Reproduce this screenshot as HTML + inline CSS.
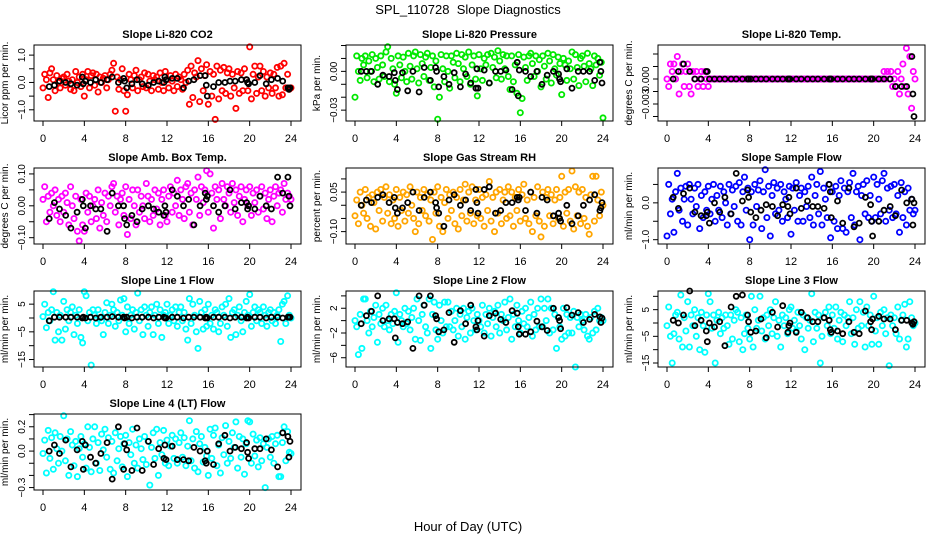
<!DOCTYPE html>
<html><head><meta charset="utf-8"><style>
html,body{margin:0;padding:0;background:#fff;}
svg{display:block;font-family:"Liberation Sans",sans-serif;}
</style></head><body>
<svg id="chart" width="936" height="540" viewBox="0 0 936 540" xmlns="http://www.w3.org/2000/svg">
<text x="468" y="14" text-anchor="middle" font-size="13" style="white-space:pre">SPL_110728&#160; Slope Diagnostics</text>
<text x="468" y="531" text-anchor="middle" font-size="13">Hour of Day (UTC)</text>
</svg>
<script>
const xTicks=[0,4,8,12,16,20,24];
const blackHours=[0.6,1.1,1.6,2.2,2.7,3.3,3.8,3.9,4.1,4.6,5.1,5.6,6.2,6.7,7.3,7.8,7.9,8.1,8.6,9.1,9.6,10.2,10.7,11.2,11.7,11.8,11.9,12.5,13.0,13.6,14.1,14.6,15.2,15.7,15.8,15.9,16.5,17.0,17.6,18.1,18.6,19.2,19.7,19.8,19.9,20.5,21.0,21.6,22.1,22.7,23.2,23.7,23.8,23.9];
const titles=["Slope Li-820 CO2","Slope Li-820 Pressure","Slope Li-820 Temp.","Slope Amb. Box Temp.","Slope Gas Stream RH","Slope Sample Flow","Slope Line 1 Flow","Slope Line 2 Flow","Slope Line 3 Flow","Slope Line 4 (LT) Flow"];
const yTitles=["Licor ppm per min.","kPa per min.","degrees C per min.","degrees C per min.","percent per min.","ml/min per min.","ml/min per min.","ml/min per min.","ml/min per min.","ml/min per min."];
const colors=["#ff0000","#00e800","#ff00ff","#ff00ff","#ffa500","#0000ff","#00ffff","#00ffff","#00ffff","#00ffff"];
const yLims=[[-1.41,1.37],[-0.0384,0.0204],[-0.00504,0.00408],[-0.1198,0.1186],[-0.147,0.1414],[-1.117,0.946],[-17.7,9.75],[-7.5,4.79],[-16.5,12],[-0.32,0.305]];
const yTicks=[[-1,-0.5,0,0.5,1],[-0.03,-0.02,-0.01,0,0.01,0.02],[-0.0045,-0.003,-0.0015,0,0.0015,0.003],[-0.1,-0.05,0,0.05,0.1],[-0.1,-0.05,0,0.05,0.1],[-1,-0.5,0,0.5],[-15,-10,-5,0,5],[-6,-4,-2,0,2,4],[-15,-10,-5,0,5,10],[-0.3,-0.2,-0.1,0,0.1,0.2,0.3]];
const yTickLabels=[[[-1,"-1.0"],[0,"0.0"],[1,"1.0"]],[[-0.03,"-0.03"],[0,"0.00"]],[[-0.003,"-0.003"],[0,"0.000"]],[[-0.1,"-0.10"],[0,"0.00"],[0.1,"0.10"]],[[-0.1,"-0.10"],[0.05,"0.05"]],[[-1,"-1.0"],[0,"0.0"]],[[-15,"-15"],[-5,"-5"],[5,"5"]],[[-6,"-6"],[-2,"-2"],[2,"2"]],[[-15,"-15"],[-5,"-5"],[5,"5"]],[[-0.3,"-0.3"],[0,"0.0"],[0.2,"0.2"]]];
const co2=[-0.2,0.3,0.1,-0.55,0.35,0.5,0.1,-0.3,0.25,0.0,-0.2,0.15,0.2,-0.1,0.3,0.05,-0.25,0.1,-0.3,0.4,0.0,0.2,-0.15,0.3,-0.5,0.1,0.4,-0.2,0.25,0.35,-0.1,0.3,-0.35,0.2,0.0,0.15,0.25,-0.2,0.1,0.3,0.45,0.7,-1.05,0.2,-0.25,0.1,0.5,-0.3,-1.05,-0.45,0.3,0.1,-0.2,0.25,0.45,-0.3,0.1,0.2,-0.15,0.35,-0.2,0.3,0.05,-0.3,0.25,0.1,0.2,-0.25,0.35,0.0,-0.3,0.4,0.1,-0.2,0.25,0.05,-0.3,0.3,-0.15,0.2,0.1,-0.25,0.3,0.0,0.45,-0.8,0.6,-0.55,0.35,0.2,0.8,-0.7,0.5,-0.3,0.25,0.65,-0.8,0.4,-0.5,0.3,-1.35,0.6,-0.6,0.45,-0.3,0.55,-0.4,0.35,0.5,-0.5,0.3,-0.2,-0.95,0.4,-0.4,0.35,-0.3,0.5,0.1,-0.3,1.3,-0.6,0.3,0.6,-0.4,0.2,0.6,-0.3,0.4,-0.5,0.2,-0.2,0.35,-0.4,0.3,-0.2,0.55,-0.5,0.6,-0.45,0.7,-0.2,0.3,-0.25,-0.2];
const co2Black=[-0.15,-0.1,0.05,0.0,-0.05,-0.1,0.2,-0.05,0.05,0.0,0.1,0.0,0.1,0.2,0.0,0.15,0.05,-0.2,-0.05,0.1,-0.05,-0.1,0.0,0.05,0.0,0.2,0.1,0.15,0.15,-0.2,0.05,0.1,0.25,0.25,-0.1,-0.5,-0.15,0.0,0.0,0.05,0.05,0.1,0.1,0.0,-0.05,0.0,0.25,-0.05,0.1,0.15,0.05,-0.2,-0.25,-0.2];
const pres=[-0.02,0.012,0.0,-0.007,0.01,0.005,0.012,-0.005,0.008,0.0,0.013,-0.008,0.01,0.003,-0.006,0.012,0.005,-0.004,0.015,0.019,-0.008,0.01,0.002,-0.01,-0.017,0.012,0.005,-0.005,0.011,0.0,-0.008,0.014,0.004,-0.006,0.012,0.015,0.002,-0.009,0.013,0.006,-0.004,0.011,0.014,-0.007,0.003,0.012,-0.012,0.008,-0.037,-0.02,0.013,0.002,-0.008,0.012,0.0,-0.013,0.012,0.007,-0.005,0.014,0.006,-0.008,0.013,0.002,0.011,-0.004,0.015,-0.01,0.005,0.012,-0.006,-0.019,0.013,0.002,-0.007,0.01,0.005,0.013,-0.009,0.014,0.003,0.011,-0.005,0.016,0.008,-0.006,0.013,0.002,0.012,-0.004,-0.014,0.012,-0.008,0.005,-0.017,0.013,-0.032,-0.021,0.011,0.003,-0.007,0.012,0.014,0.006,-0.004,0.012,0.0,0.009,-0.012,0.012,0.004,-0.006,0.014,0.008,-0.009,0.013,0.002,-0.003,0.011,0.006,-0.018,0.01,0.005,-0.007,0.008,0.002,0.015,-0.006,0.013,0.003,-0.011,0.01,0.012,0.004,-0.008,0.014,0.006,0.002,-0.011,0.012,0.005,0.01,-0.003,0.007,-0.036];
const presBlack=[0.0,0.0,0.0,-0.01,-0.003,-0.004,-0.001,-0.007,-0.014,-0.001,-0.015,0.0,-0.016,0.003,-0.007,0.003,0.0,-0.012,-0.004,-0.01,-0.001,-0.012,-0.002,-0.009,-0.013,0.002,-0.013,0.001,-0.009,0.0,0.0,0.001,-0.014,0.007,-0.019,0.001,0.0,-0.004,0.0,-0.01,-0.003,0.0,-0.002,-0.006,-0.008,0.002,-0.013,0.0,0.0,0.0,-0.007,0.007,0.0,-0.009];
const temp=[0,-0.0009,0.0018,0.0009,0.0018,0,0.0027,-0.0018,0.0009,0.0018,-0.0009,0.0009,0.0018,-0.0009,-0.0018,0.0009,0,0.0009,-0.0009,0,0.0009,-0.0009,0.0009,0,-0.0009,0,0,0,0,0,0,0,0,0,0,0,0,0,0,0,0,0,0,0,0,0,0,0,0,0,0,0,0,0,0,0,0,0,0,0,0,0,0,0,0,0,0,0,0,0,0,0,0,0,0,0,0,0,0,0,0,0,0,0,0,0,0,0,0,0,0,0,0,0,0,0,0,0,0,0,0,0,0,0,0,0,0,0,0,0,0,0,0,0,0,0,0,0,0,0,0,0,0,0,0,0,0.0009,0,0.0009,0,0.0009,-0.0009,0,-0.0009,0.0009,-0.0018,0,0.0018,-0.0009,0.0037,-0.0018,0.0027,-0.0035,0.0009,0];
const tempBlack=[0,0.0009,0.0018,0.0009,0,0,0.0009,0.0009,0,0,0,0,0,0,0,0,0,0,0,0,0,0,0,0,0,0,0,0,0,0,0,0,0,0,0,0,0,0,0,0,0,0,0,0,0,0,0,0,-0.0009,-0.0009,-0.0009,0.0027,-0.0018,-0.0045];
const amb=[0.02,0.06,-0.05,0.03,-0.02,0.04,0.0,0.05,-0.03,0.02,-0.05,0.03,-0.02,0.04,0.01,-0.06,0.06,0.0,-0.04,0.03,-0.08,-0.11,0.02,-0.06,-0.08,0.04,-0.02,0.03,-0.05,0.0,0.02,-0.04,0.05,-0.07,0.01,-0.03,0.04,-0.05,0.03,0.0,0.06,0.07,-0.02,0.03,-0.06,0.02,0.04,-0.03,0.06,-0.09,0.02,-0.04,0.05,0.0,-0.06,0.05,-0.02,0.03,0.0,-0.04,0.07,0.03,-0.05,0.02,-0.03,0.05,-0.01,0.04,-0.06,0.02,0.05,-0.03,-0.05,0.03,0.06,-0.02,0.04,0.0,0.08,-0.03,0.05,0.02,-0.04,0.06,0.07,-0.02,0.04,-0.06,0.05,0.02,0.09,-0.03,0.06,0.01,0.05,0.11,-0.02,0.1,0.04,-0.07,0.06,0.02,0.05,-0.04,0.07,0.02,0.0,0.06,0.04,-0.02,0.07,0.01,0.05,-0.03,0.03,0.06,-0.05,0.02,0.05,0.0,0.06,-0.03,0.04,0.01,0.05,-0.02,0.03,0.06,-0.01,0.04,-0.04,0.02,0.05,-0.05,0.03,0.06,0.0,0.04,0.05,-0.02,0.07,0.02,0.04,0.03,0.02];
const ambBlack=[-0.04,0.01,-0.01,-0.03,-0.07,-0.02,0.02,0.0,-0.07,0.0,-0.01,-0.01,-0.08,0.04,0.0,0.0,-0.04,-0.06,-0.03,-0.05,-0.01,0.0,-0.01,-0.02,-0.03,0.0,-0.02,0.05,0.03,0.0,0.02,-0.06,0.0,0.04,0.02,0.03,0.0,-0.02,0.0,0.05,-0.01,0.01,0.01,-0.01,0.0,-0.01,0.03,0.0,-0.01,0.09,0.04,0.09,0.03,0.0];
const rh=[-0.04,0.02,-0.07,0.05,0.0,-0.03,0.06,-0.05,0.03,-0.08,0.04,0.01,-0.09,0.05,-0.02,0.06,-0.06,0.03,0.07,-0.03,0.04,-0.07,0.02,-0.05,0.06,-0.08,0.03,-0.02,0.05,-0.06,0.04,-0.03,0.07,0.0,-0.05,-0.1,0.05,-0.07,0.03,-0.02,0.06,-0.04,0.04,-0.06,0.02,-0.13,0.05,-0.03,0.07,-0.08,0.03,-0.1,0.01,0.06,-0.05,0.04,-0.02,0.05,-0.07,0.03,-0.09,0.06,-0.04,0.02,0.08,-0.06,0.05,-0.03,0.07,-0.07,0.02,-0.04,0.06,-0.05,0.03,-0.08,0.04,-0.02,0.09,-0.06,0.03,-0.1,0.05,-0.03,0.06,-0.07,0.02,0.05,-0.05,0.07,-0.04,0.05,-0.08,0.03,-0.02,0.06,-0.06,0.04,0.08,-0.05,0.02,-0.07,0.05,-0.1,0.03,-0.04,0.07,-0.06,-0.12,0.05,-0.08,0.03,0.06,-0.04,0.04,-0.07,0.02,0.06,-0.05,0.03,0.11,-0.08,0.05,-0.03,0.06,-0.06,0.13,-0.09,0.07,-0.04,0.05,-0.07,0.06,-0.05,0.03,-0.08,-0.11,0.04,0.11,-0.06,0.11,0.02,-0.04,0.05,0.0];
const rhBlack=[0.0,0.02,0.01,0.03,0.04,0.01,0.03,-0.01,-0.03,-0.01,0.01,0.05,-0.02,0.03,0.05,0.01,-0.01,-0.03,-0.08,0.02,0.04,0.0,0.02,-0.02,0.06,0.01,-0.03,0.06,0.07,-0.03,-0.02,0.01,0.01,0.03,0.02,0.03,-0.02,0.05,-0.03,0.03,0.02,-0.04,-0.03,-0.05,-0.06,0.0,-0.07,-0.04,0.0,0.02,0.04,-0.02,-0.01,0.01];
const samp=[-0.9,0.5,-0.3,0.1,-0.8,0.3,0.8,-0.2,0.4,-0.5,0.1,0.45,-0.6,0.5,0.1,-0.3,0.4,-0.1,0.5,-0.7,0.2,-0.4,0.3,-0.2,0.45,-0.3,0.1,0.5,-0.5,0.2,-0.2,0.45,-0.4,0.3,0.0,-0.6,0.5,-0.3,0.35,-0.1,0.45,-0.5,0.55,-0.6,0.3,0.7,-0.2,0.4,-1.0,0.3,-0.6,0.5,-0.1,0.35,0.6,-0.7,0.3,0.9,-0.4,0.45,-0.9,0.2,0.55,-0.3,0.4,-0.2,0.5,-0.5,0.3,0.1,-0.4,0.45,-0.85,0.4,-0.2,0.55,-0.5,0.2,0.4,-0.5,0.3,-0.1,0.45,-0.4,0.7,-0.6,0.2,0.5,-0.3,0.85,-0.6,0.4,0.1,-0.4,0.5,-0.95,0.3,-0.5,0.45,-0.7,0.2,0.6,-0.7,0.4,-0.8,0.3,0.55,-0.4,0.8,-0.6,0.3,0.45,-1.0,0.2,0.5,-0.3,0.6,-0.4,0.2,-0.5,0.7,-0.4,0.5,0.1,-0.3,0.6,0.8,-0.5,0.4,-0.2,0.45,-0.4,0.5,-0.3,0.2,-0.8,0.55,-0.4,0.3,-0.6,0.4,-0.2,0.1,-0.3,-0.2];
const sampBlack=[0.15,-0.15,0.25,0.4,-0.25,-0.35,-0.35,-0.25,-0.55,0.0,-0.25,0.15,-0.3,0.8,0.05,0.35,0.15,-0.25,-0.4,-0.2,-0.05,-0.1,-0.35,-0.05,-0.1,0.15,-0.3,0.4,-0.15,0.05,-0.1,-0.1,-0.15,0.5,0.3,-0.4,0.05,-0.55,0.4,-0.65,-0.55,0.15,-0.05,-0.5,-0.9,-0.5,-0.2,-0.1,-0.35,0.35,0.0,0.1,-0.6,0.0];
const line1=[0.5,5,-3.5,2,-1,3,9.5,-8,2,-5,1,-8,6,-4,3,-1,2,4,-6,1,-2,3,-7,-9,9.5,8,-1,2,-17,3,1,-2,3,0,-1,-6,2,5.5,-2,1,5,3,-3,2,-1,6.5,1,7,-5,4,-2,1,3,-4,2,9,-1,3,-6,4,1,-3,2,4,-6,1,5,-2,3,-7,1,2,5,-2,1,3,-1,4,-3,2,4,-1,2,-4,-8,7,-2,5,1,-5,-11,6,2,-4,3,-3,5,-2,1,-4,3,2,-5,-2,4,1,5,-3,7,-7,2,3,-6,1,4,-1,-5,2,6,1,8.5,-3,2,4,-1,3,2,-2,4,1,-3,2,3,-1,2,-2,1,3,-8.5,5,6,-2,8,1,0];
const line1Black=[-1,0.3,0.3,0.3,0.3,0.3,0,0.3,0,0.3,0,0.3,0.3,0.5,0.3,0.3,0,0.3,0,0.3,0.3,0.3,0,0.3,0.3,0,0,0.3,0.3,0,0.3,0.3,0.3,0,0.3,0,0.3,0.3,0.3,0,0.3,0.3,0,0.3,0,0.3,0.3,0,0.3,0.3,0,0.3,0.3,0.3];
const line2=[0,-1,-5.5,1,-4.5,3.5,3.5,0,-2,1.5,-1,0.5,2.5,-3.5,1,-0.5,2,-1,2.5,0,-1.5,1,-0.5,1.5,4.5,-3.5,1,0,-1,2,-0.5,1.5,-1.5,0.5,2,-3,3.5,0,-3.2,1,2.5,-1,-2,3.5,-4.5,1,3,-1.5,-3,2.5,0,-2,3,-1,3,-1,1.5,-1.5,0,2,-2.5,1,-1,2,-3,0.5,1.5,-2,2,0,-1.5,1,0,-1,2.5,-2,1,-0.5,2,-2.5,0.5,1.5,-1,2.5,-2,1,0,3,-1.5,0.5,3.5,-3,1,-1,2.5,0,-2,1.5,-0.5,2,-1,0.5,3,-2.5,1,-1.5,2,-1,3.5,-1,2,0,3.5,-2,2,-1.5,1,-4.5,0.5,-1,-3,2,-2.5,1,-2,0.5,-2,1.5,-7.5,0.5,-1,1,0,-1.5,1,-2.5,-3,0.5,-2,1.5,-1.5,2,0,0.5,0];
const line2Black=[-0.5,0.8,1.5,4,0,0.3,0.3,-2.8,-0.3,-0.5,-0.2,-4.5,4,2.5,4,0.8,0.3,-1.8,-1.5,1.3,-3.5,1.6,-0.5,2.5,-1,-1.5,0,-2.5,0.8,1.2,0.2,-0.3,1.6,1.2,-1,-2.2,-2.2,-1.8,-0.1,-1,-1.6,2,0.5,0,-1.3,2.1,0.9,1.3,-0.3,0.2,1,0.6,-0.3,0.4];
const line3=[-1,6,-5,-15,-4,3,4,-6,10.5,-9,2,-3,8,-9,3,-1,5,-5,2,-10,4,-1,-11,3,11,8,-2,3,-15,1,4,-4,2,-2,3,-1,-8,3,-6,1,5,4,-7,2,-10,-4,3,-2,-6,10,-9,5,-2,1,10,-3,2,-6,3,-1,5,-4,2,8,-5,1,-9,3,-1,2,-4,5,6,-2,1,-3,4,-1,-6,3,-10,2,-2,1,11,-7,4,-2,3,-15,-5,2,4,-1,6,-4,3,-2,6,-6,1,4,-7,3,-1,2,8,-4,2,-8,5,-2,8,-1,4,-9,6,-1,3,-8,10,-3,2,-8,4,-1,5,-4,2,-16,3,-1,2,-4,6,-6,1,3,7,-9,-6,8,2,-1,0];
const line3Black=[1,0,3,12,-1,1,-3,-7,0,-1.5,0.5,-8.5,6,10,10.5,3,0.5,-3.5,-3,1.5,-5.5,4,-1.5,6.5,-3.5,-1,0,-3.5,4,2,0.5,0.5,2,1,-2.5,-3.5,-3,-4,0.5,-3.5,-4,4.5,0.5,-2.5,1.5,2.5,1.5,1.5,-2.5,1,1,0,-0.5,0.5];
const line4=[-0.02,0.09,-0.18,0.17,-0.06,0.11,-0.15,0.15,0.02,-0.1,0.12,0.0,0.29,-0.08,0.1,-0.2,0.16,0.05,-0.12,0.08,-0.21,0.02,0.12,-0.05,0.06,-0.14,0.2,0.03,-0.17,0.1,0.2,-0.1,0.07,-0.16,0.14,0.01,0.18,-0.05,0.11,-0.15,0.08,-0.18,0.15,-0.08,0.02,0.12,-0.13,0.06,0.13,-0.21,0.07,-0.03,0.18,-0.1,0.05,-0.14,0.1,0.02,-0.07,0.12,-0.11,0.08,-0.28,0.03,0.15,-0.06,0.18,-0.2,0.07,-0.03,0.17,-0.1,0.09,-0.12,0.04,0.13,-0.06,0.1,-0.1,0.07,0.15,-0.05,0.11,-0.12,0.04,0.25,-0.08,0.1,-0.14,0.16,-0.17,0.06,0.12,-0.09,0.03,-0.04,-0.2,0.18,-0.06,0.13,0.19,-0.12,0.05,-0.18,0.11,-0.03,0.21,-0.1,0.08,-0.06,0.15,0.03,0.24,-0.14,0.12,-0.05,0.1,-0.19,0.06,0.25,0.24,-0.1,0.14,-0.04,0.09,-0.13,0.11,-0.08,0.06,-0.3,0.03,0.1,-0.05,0.12,-0.1,0.06,0.13,-0.21,-0.21,0.07,0.2,-0.08,0.16,-0.01,-0.02];
const line4Black=[0.0,0.05,-0.02,0.09,-0.13,0.01,0.08,-0.15,0.05,-0.05,-0.1,-0.02,0.07,-0.23,0.2,-0.15,0.06,0.01,-0.16,0.19,-0.16,0.08,-0.11,0.02,-0.06,0.05,-0.07,0.04,-0.07,-0.07,-0.08,0.03,0.0,-0.08,-0.1,0.0,-0.11,0.06,0.13,0.0,0.03,0.02,0.07,-0.01,-0.06,0.02,0.02,0.1,0.01,-0.13,0.15,0.12,-0.05,0.08];
const series=[co2,pres,temp,amb,rh,samp,line1,line2,line3,line4];
const blackSeries=[co2Black,presBlack,tempBlack,ambBlack,rhBlack,sampBlack,line1Black,line2Black,line3Black,line4Black];
const panelNames=["co2","pressure","licor-temp","amb-box-temp","gas-stream-rh","sample-flow","line1-flow","line2-flow","line3-flow","line4-flow"];

const NS="http://www.w3.org/2000/svg";
const svg=document.getElementById('chart');
function mk(tag,attrs,parent){const e=document.createElementNS(NS,tag);for(const k in attrs)e.setAttribute(k,attrs[k]);(parent||svg).appendChild(e);return e;}
const BOX_W=267,BOX_H=76;
series.forEach((vals,p)=>{
  const col=p%3,row=Math.floor(p/3);
  const left=34+col*312,top=45+row*123,bottom=top+BOX_H;
  const g=mk('g',{});
  
  
  const x0=left+9,x1=left+257;
  const xs=h=>x0+(h/24)*(x1-x0);
  const [lo,hi]=yLims[p];
  const ys=v=>bottom-(v-lo)/(hi-lo)*BOX_H;
  const t=mk('text',{x:left+BOX_W/2,y:top-7,'text-anchor':'middle','font-size':'11','font-weight':'bold'},g);
  t.textContent=titles[p];
  
  
  const yt=mk('text',{x:0,y:0,'text-anchor':'middle','font-size':'10',transform:`translate(${left-26},${top+BOX_H/2}) rotate(-90)`},g);
  yt.textContent=yTitles[p];
  
  
  const pts=mk('g',{fill:'none',stroke:colors[p],'stroke-width':'1.8'},g);
  
  
  vals.forEach((v,i)=>{
    const c=mk('circle',{cx:xs(i*24/(vals.length-1)).toFixed(1),cy:ys(v).toFixed(1),r:'2.6'},pts);
    
    
  });
  const bpts=mk('g',{fill:'none',stroke:'#000','stroke-width':'1.8'},g);
  
  
  const bv=blackSeries[p];
  for(let i=0;i<Math.min(bv.length,blackHours.length);i++){
    const c=mk('circle',{cx:xs(blackHours[i]).toFixed(1),cy:ys(bv[i]).toFixed(1),r:'2.5'},bpts);
    
    
  }
  const box=mk('rect',{x:left,y:top,width:BOX_W,height:BOX_H,fill:'none',stroke:'#000','stroke-width':'1'},g);
  
  
  xTicks.forEach(h=>{
    mk('line',{x1:xs(h),x2:xs(h),y1:bottom,y2:bottom+5,stroke:'#000'},g);
    const tl=mk('text',{x:xs(h),y:bottom+21,'text-anchor':'middle','font-size':'11'},g);
    tl.textContent=h;
    
    
  });
  yTicks[p].forEach(v=>{
    const y=ys(v);
    if(y<top-1||y>bottom+1)return;
    mk('line',{x1:left-5,x2:left,y1:y,y2:y,stroke:'#000'},g);
  });
  yTickLabels[p].forEach(([v,lab])=>{
    const yl=mk('text',{x:0,y:0,'text-anchor':'middle','font-size':'10',transform:`translate(${left-9},${ys(v)}) rotate(-90)`},g);
    yl.textContent=lab.replace('-','\u2212');
    
    
  });
});
</script>
</body></html>
